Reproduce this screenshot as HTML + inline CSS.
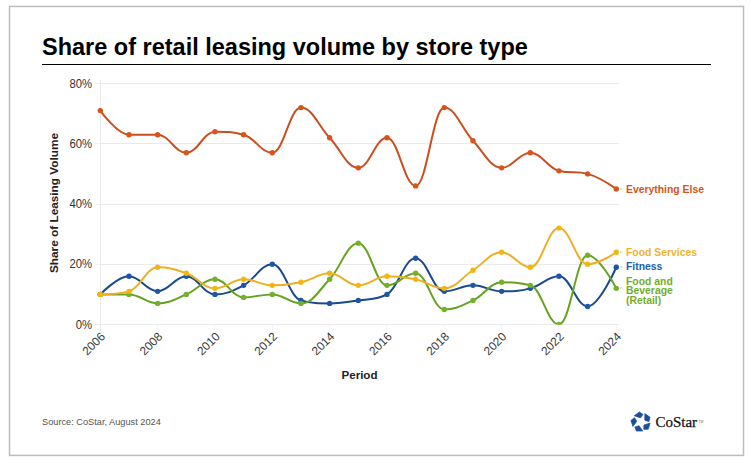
<!DOCTYPE html>
<html><head><meta charset="utf-8"><style>
html,body{margin:0;padding:0;background:#fff;}
body{width:750px;height:466px;overflow:hidden;position:relative;font-family:"Liberation Sans",sans-serif;}
.frame{position:absolute;left:9px;top:6px;width:733px;height:448px;border:1.5px solid #c4c4c4;box-sizing:content-box;}
.title{position:absolute;left:42px;top:33.3px;font-size:23.5px;font-weight:bold;color:#000;white-space:nowrap;line-height:28px;}
.rule{position:absolute;left:42px;top:63.5px;width:669px;height:1.6px;background:#000;}
svg{position:absolute;left:0;top:0;}
.yl{font-size:12.3px;fill:#333;}
.xl{font-size:11.9px;fill:#3a3a3a;}
.ytitle{position:absolute;left:53.6px;top:203px;transform:translate(-50%,-50%) rotate(-90deg);font-size:11.8px;font-weight:bold;color:#222;white-space:nowrap;}
.xtitle{position:absolute;left:359.5px;top:374px;transform:translate(-50%,-50%);font-size:11.6px;font-weight:bold;color:#222;white-space:nowrap;}
.lab{position:absolute;left:626px;font-size:10.4px;font-weight:bold;white-space:nowrap;line-height:9.6px;}
.src{position:absolute;left:42px;top:416.2px;font-size:9.6px;color:#555;white-space:nowrap;transform:scaleX(0.96);transform-origin:0 0;}
.logo{position:absolute;left:628.8px;top:409.5px;}
.costar{position:absolute;left:655.4px;top:414.3px;font-family:"Liberation Serif",serif;font-size:15px;color:#111;white-space:nowrap;-webkit-text-stroke:0.25px #111;}
.tm{font-size:3.2px;vertical-align:top;position:relative;top:5.4px;left:1.4px;color:#666;-webkit-text-stroke:0;}
</style></head><body>
<div class="title">Share of retail leasing volume by store type</div>
<div class="rule"></div>
<svg width="750" height="466" viewBox="0 0 750 466">
<rect x="9.5" y="6.45" width="734" height="448.95" fill="none" stroke="#bdbdbd" stroke-width="1.5"/>
<line x1="100" y1="324.5" x2="619" y2="324.5" stroke="#ebebeb" stroke-width="1"/>
<line x1="100" y1="264.5" x2="619" y2="264.5" stroke="#ebebeb" stroke-width="1"/>
<line x1="100" y1="204.5" x2="619" y2="204.5" stroke="#ebebeb" stroke-width="1"/>
<line x1="100" y1="143.5" x2="619" y2="143.5" stroke="#ebebeb" stroke-width="1"/>
<line x1="100" y1="83.5" x2="619" y2="83.5" stroke="#ebebeb" stroke-width="1"/>
<line x1="100.5" y1="80" x2="100.5" y2="331" stroke="#e9e9e9" stroke-width="1"/>
<line x1="95" y1="324.5" x2="100" y2="324.5" stroke="#e8e8e8" stroke-width="1"/>
<line x1="95" y1="264.5" x2="100" y2="264.5" stroke="#f3f3f3" stroke-width="1"/>
<line x1="95" y1="204.5" x2="100" y2="204.5" stroke="#f3f3f3" stroke-width="1"/>
<line x1="95" y1="143.5" x2="100" y2="143.5" stroke="#f3f3f3" stroke-width="1"/>
<line x1="95" y1="83.5" x2="100" y2="83.5" stroke="#f3f3f3" stroke-width="1"/>
<line x1="157.5" y1="325" x2="157.5" y2="330" stroke="#f4f4f4" stroke-width="1"/>
<line x1="214.5" y1="325" x2="214.5" y2="330" stroke="#f4f4f4" stroke-width="1"/>
<line x1="272.5" y1="325" x2="272.5" y2="330" stroke="#f4f4f4" stroke-width="1"/>
<line x1="329.5" y1="325" x2="329.5" y2="330" stroke="#f4f4f4" stroke-width="1"/>
<line x1="386.5" y1="325" x2="386.5" y2="330" stroke="#f4f4f4" stroke-width="1"/>
<line x1="444.5" y1="325" x2="444.5" y2="330" stroke="#f4f4f4" stroke-width="1"/>
<line x1="501.5" y1="325" x2="501.5" y2="330" stroke="#f4f4f4" stroke-width="1"/>
<line x1="558.5" y1="325" x2="558.5" y2="330" stroke="#f4f4f4" stroke-width="1"/>
<line x1="616.5" y1="325" x2="616.5" y2="330" stroke="#f4f4f4" stroke-width="1"/>
<text transform="translate(92,328.7) scale(0.92,1)" text-anchor="end" class="yl">0%</text>
<text transform="translate(92,268.4) scale(0.92,1)" text-anchor="end" class="yl">20%</text>
<text transform="translate(92,208.2) scale(0.92,1)" text-anchor="end" class="yl">40%</text>
<text transform="translate(92,147.9) scale(0.92,1)" text-anchor="end" class="yl">60%</text>
<text transform="translate(92,87.7) scale(0.92,1)" text-anchor="end" class="yl">80%</text>
<text transform="translate(105.9,337.3) rotate(-45)" text-anchor="end" class="xl">2006</text>
<text transform="translate(163.2,337.3) rotate(-45)" text-anchor="end" class="xl">2008</text>
<text transform="translate(220.6,337.3) rotate(-45)" text-anchor="end" class="xl">2010</text>
<text transform="translate(277.9,337.3) rotate(-45)" text-anchor="end" class="xl">2012</text>
<text transform="translate(335.2,337.3) rotate(-45)" text-anchor="end" class="xl">2014</text>
<text transform="translate(392.6,337.3) rotate(-45)" text-anchor="end" class="xl">2016</text>
<text transform="translate(449.9,337.3) rotate(-45)" text-anchor="end" class="xl">2018</text>
<text transform="translate(507.2,337.3) rotate(-45)" text-anchor="end" class="xl">2020</text>
<text transform="translate(564.6,337.3) rotate(-45)" text-anchor="end" class="xl">2022</text>
<text transform="translate(621.9,337.3) rotate(-45)" text-anchor="end" class="xl">2024</text>
<clipPath id="pc"><rect x="80" y="70" width="560" height="254.6"/></clipPath><g clip-path="url(#pc)">
<path d="M100.30 110.61 C100.30 110.61 117.50 134.71 128.97 134.71 C140.43 134.71 146.17 134.71 157.63 134.71 C169.10 134.71 174.83 152.79 186.30 152.79 C197.77 152.79 203.50 131.70 214.97 131.70 C226.43 131.70 232.17 131.70 243.63 134.71 C255.10 137.72 260.83 152.79 272.30 152.79 C283.77 152.79 289.50 107.60 300.97 107.60 C312.43 107.60 318.17 125.68 329.63 137.72 C341.10 149.78 346.83 167.85 358.30 167.85 C369.77 167.85 375.50 137.72 386.97 137.72 C398.43 137.72 404.17 185.92 415.63 185.92 C427.10 185.92 432.83 107.60 444.30 107.60 C455.77 107.60 461.50 128.69 472.97 140.74 C484.43 152.79 490.17 167.85 501.63 167.85 C513.10 167.85 518.83 152.79 530.30 152.79 C541.77 152.79 547.50 167.85 558.97 170.86 C570.43 173.88 576.17 170.86 587.63 173.88 C599.10 176.89 616.30 188.94 616.30 188.94" fill="none" stroke="#c9501d" stroke-width="2" stroke-linejoin="round" stroke-linecap="round"/>
<circle cx="100.30" cy="110.61" r="2.7" fill="#d9531c"/>
<circle cx="128.97" cy="134.71" r="2.7" fill="#d9531c"/>
<circle cx="157.63" cy="134.71" r="2.7" fill="#d9531c"/>
<circle cx="186.30" cy="152.79" r="2.7" fill="#d9531c"/>
<circle cx="214.97" cy="131.70" r="2.7" fill="#d9531c"/>
<circle cx="243.63" cy="134.71" r="2.7" fill="#d9531c"/>
<circle cx="272.30" cy="152.79" r="2.7" fill="#d9531c"/>
<circle cx="300.97" cy="107.60" r="2.7" fill="#d9531c"/>
<circle cx="329.63" cy="137.72" r="2.7" fill="#d9531c"/>
<circle cx="358.30" cy="167.85" r="2.7" fill="#d9531c"/>
<circle cx="386.97" cy="137.72" r="2.7" fill="#d9531c"/>
<circle cx="415.63" cy="185.92" r="2.7" fill="#d9531c"/>
<circle cx="444.30" cy="107.60" r="2.7" fill="#d9531c"/>
<circle cx="472.97" cy="140.74" r="2.7" fill="#d9531c"/>
<circle cx="501.63" cy="167.85" r="2.7" fill="#d9531c"/>
<circle cx="530.30" cy="152.79" r="2.7" fill="#d9531c"/>
<circle cx="558.97" cy="170.86" r="2.7" fill="#d9531c"/>
<circle cx="587.63" cy="173.88" r="2.7" fill="#d9531c"/>
<circle cx="616.30" cy="188.94" r="2.7" fill="#d9531c"/>
<path d="M100.30 294.38 C100.30 294.38 117.50 276.30 128.97 276.30 C140.43 276.30 146.17 291.36 157.63 291.36 C169.10 291.36 174.83 276.30 186.30 276.30 C197.77 276.30 203.50 294.38 214.97 294.38 C226.43 294.38 232.17 291.36 243.63 285.34 C255.10 279.31 260.83 264.25 272.30 264.25 C283.77 264.25 289.50 297.39 300.97 300.40 C312.43 303.41 318.17 303.41 329.63 303.41 C341.10 303.41 346.83 302.21 358.30 300.40 C369.77 298.59 375.50 300.40 386.97 294.38 C398.43 288.35 404.17 258.23 415.63 258.23 C427.10 258.23 432.83 291.36 444.30 291.36 C455.77 291.36 461.50 285.34 472.97 285.34 C484.43 285.34 490.17 291.36 501.63 291.36 C513.10 291.36 518.83 291.36 530.30 288.35 C541.77 285.34 547.50 276.30 558.97 276.30 C570.43 276.30 576.17 306.43 587.63 306.43 C599.10 306.43 616.30 267.26 616.30 267.26" fill="none" stroke="#19498f" stroke-width="2" stroke-linejoin="round" stroke-linecap="round"/>
<circle cx="100.30" cy="294.38" r="2.7" fill="#1d56a6"/>
<circle cx="128.97" cy="276.30" r="2.7" fill="#1d56a6"/>
<circle cx="157.63" cy="291.36" r="2.7" fill="#1d56a6"/>
<circle cx="186.30" cy="276.30" r="2.7" fill="#1d56a6"/>
<circle cx="214.97" cy="294.38" r="2.7" fill="#1d56a6"/>
<circle cx="243.63" cy="285.34" r="2.7" fill="#1d56a6"/>
<circle cx="272.30" cy="264.25" r="2.7" fill="#1d56a6"/>
<circle cx="300.97" cy="300.40" r="2.7" fill="#1d56a6"/>
<circle cx="329.63" cy="303.41" r="2.7" fill="#1d56a6"/>
<circle cx="358.30" cy="300.40" r="2.7" fill="#1d56a6"/>
<circle cx="386.97" cy="294.38" r="2.7" fill="#1d56a6"/>
<circle cx="415.63" cy="258.23" r="2.7" fill="#1d56a6"/>
<circle cx="444.30" cy="291.36" r="2.7" fill="#1d56a6"/>
<circle cx="472.97" cy="285.34" r="2.7" fill="#1d56a6"/>
<circle cx="501.63" cy="291.36" r="2.7" fill="#1d56a6"/>
<circle cx="530.30" cy="288.35" r="2.7" fill="#1d56a6"/>
<circle cx="558.97" cy="276.30" r="2.7" fill="#1d56a6"/>
<circle cx="587.63" cy="306.43" r="2.7" fill="#1d56a6"/>
<circle cx="616.30" cy="267.26" r="2.7" fill="#1d56a6"/>
<path d="M100.30 294.38 C100.30 294.38 117.50 294.38 128.97 294.38 C140.43 294.38 146.17 303.41 157.63 303.41 C169.10 303.41 174.83 299.19 186.30 294.38 C197.77 289.56 203.50 279.31 214.97 279.31 C226.43 279.31 232.17 297.39 243.63 297.39 C255.10 297.39 260.83 294.38 272.30 294.38 C283.77 294.38 289.50 303.41 300.97 303.41 C312.43 303.41 318.17 291.36 329.63 279.31 C341.10 267.26 346.83 243.16 358.30 243.16 C369.77 243.16 375.50 285.34 386.97 285.34 C398.43 285.34 404.17 273.29 415.63 273.29 C427.10 273.29 432.83 309.44 444.30 309.44 C455.77 309.44 461.50 305.82 472.97 300.40 C484.43 294.98 490.17 282.32 501.63 282.32 C513.10 282.32 518.83 282.32 530.30 285.34 C541.77 288.35 547.50 324.50 558.97 324.50 C570.43 324.50 576.17 255.21 587.63 255.21 C599.10 255.21 616.30 288.35 616.30 288.35" fill="none" stroke="#66a321" stroke-width="2" stroke-linejoin="round" stroke-linecap="round"/>
<circle cx="100.30" cy="294.38" r="2.7" fill="#74b12a"/>
<circle cx="128.97" cy="294.38" r="2.7" fill="#74b12a"/>
<circle cx="157.63" cy="303.41" r="2.7" fill="#74b12a"/>
<circle cx="186.30" cy="294.38" r="2.7" fill="#74b12a"/>
<circle cx="214.97" cy="279.31" r="2.7" fill="#74b12a"/>
<circle cx="243.63" cy="297.39" r="2.7" fill="#74b12a"/>
<circle cx="272.30" cy="294.38" r="2.7" fill="#74b12a"/>
<circle cx="300.97" cy="303.41" r="2.7" fill="#74b12a"/>
<circle cx="329.63" cy="279.31" r="2.7" fill="#74b12a"/>
<circle cx="358.30" cy="243.16" r="2.7" fill="#74b12a"/>
<circle cx="386.97" cy="285.34" r="2.7" fill="#74b12a"/>
<circle cx="415.63" cy="273.29" r="2.7" fill="#74b12a"/>
<circle cx="444.30" cy="309.44" r="2.7" fill="#74b12a"/>
<circle cx="472.97" cy="300.40" r="2.7" fill="#74b12a"/>
<circle cx="501.63" cy="282.32" r="2.7" fill="#74b12a"/>
<circle cx="530.30" cy="285.34" r="2.7" fill="#74b12a"/>
<circle cx="558.97" cy="324.50" r="2.7" fill="#74b12a"/>
<circle cx="587.63" cy="255.21" r="2.7" fill="#74b12a"/>
<circle cx="616.30" cy="288.35" r="2.7" fill="#74b12a"/>
<path d="M100.30 294.38 C100.30 294.38 117.50 294.38 128.97 291.36 C140.43 288.35 146.17 267.26 157.63 267.26 C169.10 267.26 174.83 269.07 186.30 273.29 C197.77 277.51 203.50 288.35 214.97 288.35 C226.43 288.35 232.17 279.31 243.63 279.31 C255.10 279.31 260.83 285.34 272.30 285.34 C283.77 285.34 289.50 284.74 300.97 282.32 C312.43 279.92 318.17 273.29 329.63 273.29 C341.10 273.29 346.83 285.34 358.30 285.34 C369.77 285.34 375.50 276.30 386.97 276.30 C398.43 276.30 404.17 276.90 415.63 279.31 C427.10 281.72 432.83 288.35 444.30 288.35 C455.77 288.35 461.50 277.50 472.97 270.27 C484.43 263.04 490.17 252.20 501.63 252.20 C513.10 252.20 518.83 267.26 530.30 267.26 C541.77 267.26 547.50 228.10 558.97 228.10 C570.43 228.10 576.17 264.25 587.63 264.25 C599.10 264.25 616.30 252.20 616.30 252.20" fill="none" stroke="#ebb027" stroke-width="2" stroke-linejoin="round" stroke-linecap="round"/>
<circle cx="100.30" cy="294.38" r="2.7" fill="#f1b70e"/>
<circle cx="128.97" cy="291.36" r="2.7" fill="#f1b70e"/>
<circle cx="157.63" cy="267.26" r="2.7" fill="#f1b70e"/>
<circle cx="186.30" cy="273.29" r="2.7" fill="#f1b70e"/>
<circle cx="214.97" cy="288.35" r="2.7" fill="#f1b70e"/>
<circle cx="243.63" cy="279.31" r="2.7" fill="#f1b70e"/>
<circle cx="272.30" cy="285.34" r="2.7" fill="#f1b70e"/>
<circle cx="300.97" cy="282.32" r="2.7" fill="#f1b70e"/>
<circle cx="329.63" cy="273.29" r="2.7" fill="#f1b70e"/>
<circle cx="358.30" cy="285.34" r="2.7" fill="#f1b70e"/>
<circle cx="386.97" cy="276.30" r="2.7" fill="#f1b70e"/>
<circle cx="415.63" cy="279.31" r="2.7" fill="#f1b70e"/>
<circle cx="444.30" cy="288.35" r="2.7" fill="#f1b70e"/>
<circle cx="472.97" cy="270.27" r="2.7" fill="#f1b70e"/>
<circle cx="501.63" cy="252.20" r="2.7" fill="#f1b70e"/>
<circle cx="530.30" cy="267.26" r="2.7" fill="#f1b70e"/>
<circle cx="558.97" cy="228.10" r="2.7" fill="#f1b70e"/>
<circle cx="587.63" cy="264.25" r="2.7" fill="#f1b70e"/>
<circle cx="616.30" cy="252.20" r="2.7" fill="#f1b70e"/>
</g>
<line x1="620" y1="189.0" x2="622.5" y2="189.0" stroke="#c8c8c8" stroke-width="1"/>
<line x1="620" y1="252.0" x2="622.5" y2="252.0" stroke="#c8c8c8" stroke-width="1"/>
<line x1="620" y1="267.0" x2="622.5" y2="267.0" stroke="#c8c8c8" stroke-width="1"/>
<line x1="620" y1="288.0" x2="622.5" y2="288.0" stroke="#c8c8c8" stroke-width="1"/>
</svg>
<div class="ytitle">Share of Leasing Volume</div>
<div class="xtitle">Period</div>
<div class="lab" style="top:184.7px;color:#d4561a">Everything Else</div>
<div class="lab" style="top:247.6px;color:#f0b42a">Food Services</div>
<div class="lab" style="top:261.5px;color:#2360b0">Fitness</div>
<div class="lab" style="top:276.5px;color:#72ae2a">Food and<br>Beverage<br>(Retail)</div>
<div class="src">Source: CoStar, August 2024</div>
<svg class="logo" width="24" height="24" viewBox="-12 -12 24 24">
<g fill="#1b4f9b">
<polygon id="lp" points="-6.8,-6.3 -1.6,-10.1 2.1,-7.6 -0.6,-4.1" stroke="#1b4f9b" stroke-width="0.6" stroke-linejoin="round"/>
<use href="#lp" transform="rotate(72)"/>
<use href="#lp" transform="rotate(144)"/>
<use href="#lp" transform="rotate(216)"/>
<use href="#lp" transform="rotate(288)"/>
</g>
</svg>
<div class="costar">CoStar<span class="tm">TM</span></div>
</body></html>
